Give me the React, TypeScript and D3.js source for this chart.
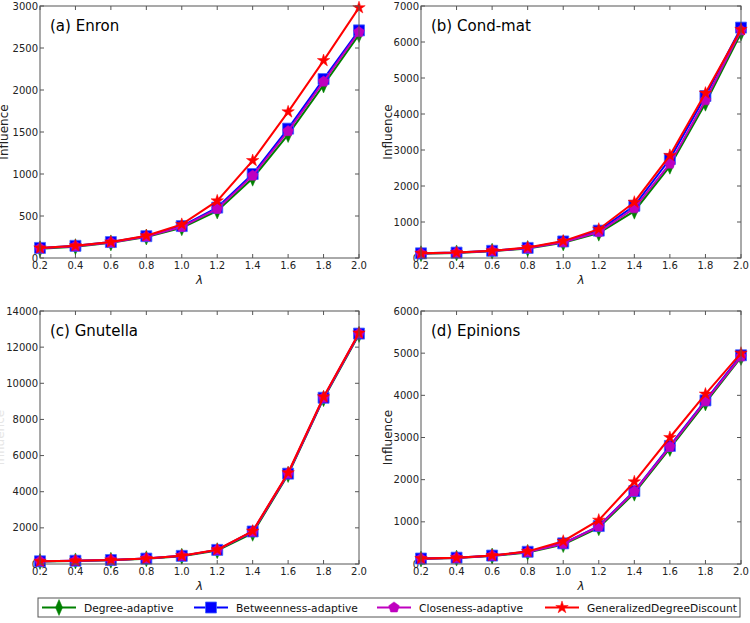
import React from "react";
import * as d3 from "d3";

const lambdas = [0.2, 0.4, 0.6, 0.8, 1.0, 1.2, 1.4, 1.6, 1.8, 2.0];
const seriesNames = ["Degree-adaptive", "Betweenness-adaptive", "Closeness-adaptive", "GeneralizedDegreeDiscount"];
const seriesColors = ["#008000", "#0000ff", "#bf00bf", "#ff0000"];

const enronDegree = [110, 135, 180, 250, 360, 560, 950, 1470, 2060, 2660];
const enronBetween = [120, 145, 190, 260, 380, 600, 1000, 1540, 2130, 2710];
const enronClose = [115, 140, 185, 255, 370, 585, 980, 1510, 2100, 2690];
const enronGDD = [120, 145, 190, 265, 400, 680, 1160, 1740, 2350, 2980];

const condDegree = [120, 140, 190, 265, 420, 690, 1300, 2550, 4300, 6250];
const condBetween = [130, 150, 200, 280, 460, 760, 1450, 2750, 4500, 6400];
const condClose = [125, 145, 195, 275, 440, 720, 1380, 2620, 4380, 6320];
const condGDD = [130, 150, 200, 290, 470, 800, 1550, 2850, 4580, 6350];

const gnuDegree = [140, 170, 210, 290, 430, 740, 1700, 4950, 9150, 12700];
const gnuBetween = [150, 180, 220, 300, 450, 780, 1800, 5000, 9200, 12750];
const gnuClose = [150, 180, 220, 300, 450, 780, 1790, 5000, 9200, 12750];
const gnuGDD = [150, 180, 225, 305, 460, 790, 1820, 5050, 9250, 12780];

const epiDegree = [120, 140, 190, 275, 460, 860, 1680, 2740, 3820, 4900];
const epiBetween = [130, 150, 200, 290, 490, 900, 1730, 2800, 3880, 4950];
const epiClose = [125, 145, 195, 285, 480, 890, 1720, 2780, 3860, 4920];
const epiGDD = [130, 150, 200, 300, 540, 1040, 1950, 3000, 4030, 5000];

const xTicks = [0.2, 0.4, 0.6, 0.8, 1.0, 1.2, 1.4, 1.6, 1.8, 2.0];

const panels = [
  { title: "(a) Enron", yMax: 3000, yTicks: [0, 500, 1000, 1500, 2000, 2500, 3000], data: [enronDegree, enronBetween, enronClose, enronGDD], x0: 40, x1: 359, y0: 6, y1: 258, labelColor: "#222", labelX: 8 },
  { title: "(b) Cond-mat", yMax: 7000, yTicks: [0, 1000, 2000, 3000, 4000, 5000, 6000, 7000], data: [condDegree, condBetween, condClose, condGDD], x0: 421, x1: 741, y0: 6, y1: 258, labelColor: "#222", labelX: 392 },
  { title: "(c) Gnutella", yMax: 14000, yTicks: [0, 2000, 4000, 6000, 8000, 10000, 12000, 14000], data: [gnuDegree, gnuBetween, gnuClose, gnuGDD], x0: 40, x1: 359, y0: 311, y1: 564, labelColor: "#e6e6e6", labelX: 4 },
  { title: "(d) Epinions", yMax: 6000, yTicks: [0, 1000, 2000, 3000, 4000, 5000, 6000], data: [epiDegree, epiBetween, epiClose, epiGDD], x0: 421, x1: 741, y0: 311, y1: 564, labelColor: "#222", labelX: 392 },
];

const FONT = "DejaVu Sans, sans-serif";

function thinDiamond(w: number, h: number) {
  return `M0,${-h / 2}L${w / 2},0L0,${h / 2}L${-w / 2},0Z`;
}
function pentagon(r: number) {
  const pts = d3.range(5).map((i) => {
    const a = -Math.PI / 2 + (i * 2 * Math.PI) / 5;
    return [r * Math.cos(a), r * Math.sin(a)];
  });
  return "M" + pts.map((p) => p.join(",")).join("L") + "Z";
}
const squarePath = (s: number) => `M${-s / 2},${-s / 2}h${s}v${s}h${-s}Z`;
const starPath = d3.symbol(d3.symbolStar, 48)() as string;

function Marker({ kind, x, y }: { kind: number; x: number; y: number }) {
  const c = seriesColors[kind];
  if (kind === 0) return <path d={thinDiamond(7, 16)} transform={`translate(${x},${y})`} fill={c} stroke={c} strokeWidth={0.5} />;
  if (kind === 1) return <path d={squarePath(11)} transform={`translate(${x},${y})`} fill={c} stroke="#4466ff" strokeWidth={0.8} />;
  if (kind === 2) return <path d={pentagon(5.6)} transform={`translate(${x},${y})`} fill={c} stroke={c} strokeWidth={0.5} />;
  return <path d={starPath} transform={`translate(${x},${y})`} fill={c} stroke={c} strokeWidth={0.5} />;
}

function Panel({ p }: { p: (typeof panels)[number] }) {
  const xs = d3.scaleLinear().domain([0.2, 2.0]).range([p.x0, p.x1]);
  const ys = d3.scaleLinear().domain([0, p.yMax]).range([p.y1, p.y0]);
  const line = d3.line<number>().x((_, i) => xs(lambdas[i])).y((d) => ys(d));
  const axisColor = "#555";
  const tl = 4;
  return (
    <g>
      <defs>
        <clipPath id={`clip-${p.x0}-${p.y0}`}>
          <rect x={p.x0 - 8} y={p.y0 - 8} width={p.x1 - p.x0 + 16} height={p.y1 - p.y0 + 16} />
        </clipPath>
      </defs>
      {xTicks.map((t) => (
        <g key={"xt" + t}>
          <line x1={xs(t)} x2={xs(t)} y1={p.y1} y2={p.y1 - tl} stroke={axisColor} />
          <line x1={xs(t)} x2={xs(t)} y1={p.y0} y2={p.y0 + tl} stroke={axisColor} />
          <text x={xs(t)} y={p.y1 + 11} fontSize={10} textAnchor="middle" fill="#222" fontFamily={FONT}>{t.toFixed(1)}</text>
        </g>
      ))}
      {p.yTicks.map((t) => (
        <g key={"yt" + t}>
          <line x1={p.x0} x2={p.x0 + tl} y1={ys(t)} y2={ys(t)} stroke={axisColor} />
          <line x1={p.x1} x2={p.x1 - tl} y1={ys(t)} y2={ys(t)} stroke={axisColor} />
          <text x={p.x0 - 2} y={ys(t) + 3.5} fontSize={10} textAnchor="end" fill="#222" fontFamily={FONT}>{t}</text>
        </g>
      ))}
      <g clipPath={`url(#clip-${p.x0}-${p.y0})`}>
        {p.data.map((vals, k) => (
          <g key={"s" + k}>
            <path d={line(vals) as string} fill="none" stroke={seriesColors[k]} strokeWidth={2} />
            {vals.map((v, i) => (
              <Marker key={i} kind={k} x={xs(lambdas[i])} y={ys(v)} />
            ))}
          </g>
        ))}
      </g>
      <rect x={p.x0} y={p.y0} width={p.x1 - p.x0} height={p.y1 - p.y0} fill="none" stroke={axisColor} strokeWidth={1} />
      <text x={p.x0 + 10} y={p.y0 + 25} fontSize={15} fill="#000" fontFamily={FONT}>{p.title}</text>
      <text x={(p.x0 + p.x1) / 2} y={p.y1 + 26} fontSize={12} textAnchor="middle" fill="#222" fontFamily={FONT} fontStyle="italic">λ</text>
      <text transform={`translate(${p.labelX},${(p.y0 + p.y1) / 2}) rotate(-90)`} fontSize={12} textAnchor="middle" fill={p.labelColor} fontFamily={FONT}>Influence</text>
    </g>
  );
}

const legendX = [42, 194, 377, 545];

export default function App() {
  return (
    <svg width={750} height={623} style={{ position: "absolute", left: 0, top: 0, background: "#fff" }}>
      <rect x={0} y={0} width={750} height={623} fill="#fff" />
      {panels.map((p) => (
        <Panel key={p.title} p={p} />
      ))}
      <rect x={38} y={598} width={702} height={19} fill="#fff" stroke="#555" strokeWidth={1} />
      {seriesNames.map((n, k) => (
        <g key={n}>
          <line x1={legendX[k]} x2={legendX[k] + 34} y1={607.5} y2={607.5} stroke={seriesColors[k]} strokeWidth={2} />
          <Marker kind={k} x={legendX[k] + 17} y={607.5} />
          <text x={legendX[k] + 42} y={611.5} fontSize={10.7} fill="#111" fontFamily={FONT}>{n}</text>
        </g>
      ))}
    </svg>
  );
}
